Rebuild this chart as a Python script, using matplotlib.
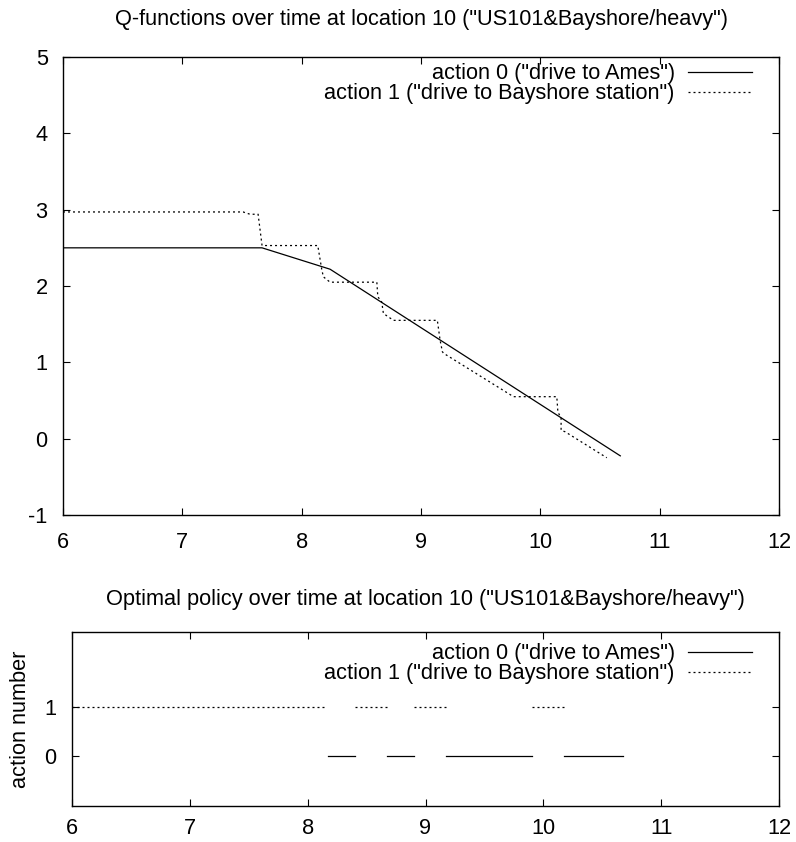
import numpy as np
import matplotlib
matplotlib.use("Agg")
import matplotlib.pyplot as plt

plt.rcParams['font.family'] = ['Liberation Sans', 'DejaVu Sans']
plt.rcParams['axes.unicode_minus'] = False

# ---- data ----
t_a0 = [6.0, 7.668, 8.238, 10.67]
q_a0 = [2.50, 2.50, 2.22, -0.225]

t_a1 = [6.0, 7.509, 7.567, 7.635, 7.668, 8.135, 8.168, 8.182, 8.238, 8.630,
        8.638, 8.671, 8.685, 8.769, 9.137, 9.160, 9.179, 9.188, 9.775, 10.138,
        10.147, 10.174, 10.174, 10.208, 10.557]
q_a1 = [2.97, 2.97, 2.94, 2.94, 2.53, 2.53, 2.22, 2.12, 2.05, 2.05,
        1.86, 1.79, 1.64, 1.55, 1.55, 1.29, 1.14, 1.12, 0.55, 0.55,
        0.35, 0.27, 0.11, 0.09, -0.25]

pol_a1_start = [6.0, 8.402, 8.906, 9.907]
pol_a1_end = [8.148, 8.677, 9.172, 10.179]
pol_a0_start = [8.176, 8.677, 9.175, 10.177]
pol_a0_end = [8.402, 8.904, 9.907, 10.675]

label0 = 'action 0 ("drive to Ames")'
label1 = 'action 1 ("drive to Bayshore station")'
title_top = 'Q-functions over time at location 10 ("US101&Bayshore/heavy")'
title_bot = 'Optimal policy over time at location 10 ("US101&Bayshore/heavy")'
xticks = [6, 7, 8, 9, 10, 11, 12]
yticks_top = [-1, 0, 1, 2, 3, 4, 5]
yticks_bot = [0, 1]


def segments(starts, ends, val):
    xs, ys = [], []
    for s, e in zip(starts, ends):
        xs += [s, e, np.nan]
        ys += [val, val, np.nan]
    return xs, ys


FS = 15.7
LW = 0.9
DOT = (0, (1.6, 2.4))

fig = plt.figure(figsize=(7.96, 8.42), dpi=100)

W, H = 796.0, 842.0
ax1 = fig.add_axes([63 / W, 1 - 515 / H, (779 - 63) / W, (515 - 57) / H])
ax2 = fig.add_axes([72 / W, 1 - 806 / H, (779 - 72) / W, (806 - 632) / H])

ax1.plot(t_a0, q_a0, color='black', lw=LW, label=label0)
ax1.plot(t_a1, q_a1, color='black', lw=LW, linestyle=DOT, label=label1)
ax1.set_xlim(6, 12)
ax1.set_ylim(-1, 5)
ax1.set_xticks(xticks)
ax1.set_yticks(yticks_top)

x0, y0 = segments(pol_a0_start, pol_a0_end, 0)
x1, y1 = segments(pol_a1_start, pol_a1_end, 1)
ax2.plot(x0, y0, color='black', lw=LW, label=label0)
ax2.plot(x1, y1, color='black', lw=LW, linestyle=DOT, label=label1)
ax2.set_xlim(6, 12)
ax2.set_ylim(-1, 2.5)
ax2.set_xticks(xticks)
ax2.set_yticks(yticks_bot)
ax2.set_ylabel('action number', fontsize=FS, labelpad=10)

for ax, anchor, xpad in ((ax1, ((761 - 63) / 716, 1.005), 12),
                         (ax2, ((761 - 72) / 707, 0.985), 9)):
    ax.tick_params(direction='in', length=5, width=0.8, top=True, right=True,
                   labelsize=FS)
    ax.tick_params(axis='x', pad=xpad)
    ax.tick_params(axis='y', pad=11)
    for sp in ax.spines.values():
        sp.set_linewidth(1.0)
    ax.legend(loc='upper right', bbox_to_anchor=anchor, frameon=False,
              markerfirst=False, fontsize=FS, handlelength=2.95,
              handletextpad=0.6, labelspacing=-0.05, borderaxespad=0.2,
              borderpad=0.2)

fig.text(421 / W, 1 - 20 / H, title_top, ha='center', va='center', fontsize=FS)
fig.text(425 / W, 1 - 600 / H, title_bot, ha='center', va='center', fontsize=FS)

fig.savefig('out.png', dpi=100)
